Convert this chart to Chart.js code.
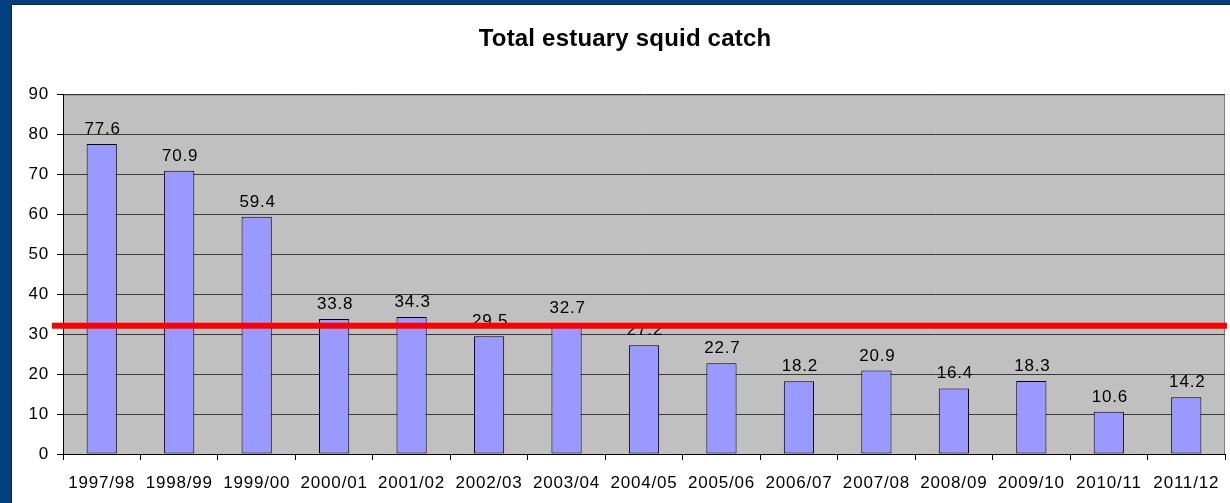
<!DOCTYPE html>
<html>
<head>
<meta charset="utf-8">
<script src="https://cdn.jsdelivr.net/npm/chart.js@4"></script>
<style>
    html, body { margin: 0; padding: 0; background: #004080; }
    #frame {
        position: absolute; left: 11px; top: 4px; width: 1219px; height: 499px;
        border-left: 1px solid #222; border-top: 1px solid #222; background: #fff;
    }
    #wrap { position: absolute; left: 0; top: 0; width: 1218px; height: 498px; }
</style>
</head>
<body>
<div id="frame"><div id="wrap"><canvas id="squidChart"></canvas></div></div>
<script>
// Season labels and catch totals
const seasons = ['1997/98', '1998/99', '1999/00', '2000/01', '2001/02', '2002/03', '2003/04', '2004/05',
    '2005/06', '2006/07', '2007/08', '2008/09', '2009/10', '2010/11', '2011/12'];
const catchTotals = [77.6, 70.9, 59.4, 33.8, 34.3, 29.5, 32.7, 27.2, 22.7, 18.2, 20.9, 16.4, 18.3, 10.6, 14.2];
const yTicks = [0, 10, 20, 30, 40, 50, 60, 70, 80, 90];
const referenceLevel = 32.1;
const chartTitle = 'Total estuary squid catch';

const fontFamily = "'Liberation Sans', Arial, sans-serif";

// Grey plot background (drawn before grid lines) with grey top/right border
const plotBackground = {
    id: 'plotBackground',
    beforeDraw(chart) {
        const { ctx, chartArea: a } = chart;
        ctx.letterSpacing = '0.8px'; // text in the original is a bit wider
        ctx.save();
        ctx.fillStyle = '#C0C0C0';
        ctx.fillRect(a.left, a.top, a.right - a.left, a.bottom - a.top);
        ctx.strokeStyle = '#808080';
        ctx.lineWidth = 1;
        ctx.beginPath();
        ctx.moveTo(a.left, a.top + 0.5);
        ctx.lineTo(a.right - 0.5, a.top + 0.5);
        ctx.lineTo(a.right - 0.5, a.bottom);
        ctx.stroke();
        ctx.restore();
    }
};

// Value labels above each bar, red reference line on top, and the title
const valueLabels = {
    id: 'valueLabels',
    afterDatasetsDraw(chart) {
        const { ctx, chartArea: a, scales } = chart;
        const meta = chart.getDatasetMeta(0);
        ctx.save();
        ctx.letterSpacing = '0.8px';
        ctx.font = `17px ${fontFamily}`;
        ctx.fillStyle = '#000';
        ctx.textAlign = 'center';
        ctx.textBaseline = 'alphabetic';
        meta.data.forEach((bar, i) => {
            ctx.fillText(catchTotals[i].toFixed(1), bar.x + 1, bar.y - 10);
        });

        const y = scales.y.getPixelForValue(referenceLevel);
        ctx.strokeStyle = '#FF0000';
        ctx.lineWidth = 6;
        ctx.beginPath();
        ctx.moveTo(a.left - 11, y);
        ctx.lineTo(a.right + 2, y);
        ctx.stroke();

        // title
        ctx.letterSpacing = '0.2px';
        ctx.font = `bold 24px ${fontFamily}`;
        ctx.fillText(chartTitle, 613, 41);
        ctx.restore();
    }
};

new Chart(document.getElementById('squidChart'), {
    type: 'bar',
    data: {
        labels: seasons,
        datasets: [{
            data: catchTotals,
            backgroundColor: '#9999FF',
            borderColor: '#000',
            borderWidth: 1,
            borderSkipped: false,
            categoryPercentage: 1,
            barPercentage: 0.39
        }]
    },
    options: {
        responsive: true,
        maintainAspectRatio: false,
        animation: false,
        layout: { padding: { left: 0, right: 5, top: 89.5, bottom: 0 } },
        plugins: {
            legend: { display: false },
            tooltip: { enabled: false },
            title: { display: false }
        },
        scales: {
            x: {
                grid: { display: true, drawOnChartArea: false, drawTicks: true, tickLength: 6, color: '#000', offset: true },
                border: { display: true, color: '#000', width: 1 },
                ticks: { color: '#000', font: { family: fontFamily, size: 17 }, padding: 13, maxRotation: 0, autoSkip: false },
                afterFit(scale) { scale.height = 49; }
            },
            y: {
                min: 0,
                max: 90,
                afterBuildTicks(scale) { scale.ticks = yTicks.map(v => ({ value: v })); },
                grid: { color: '#3a3a3a', tickLength: 6, tickColor: '#000' },
                border: { display: true, color: '#000', width: 1 },
                ticks: { color: '#000', font: { family: fontFamily, size: 17 }, padding: 8 },
                afterFit(scale) { scale.width = 51; }
            }
        }
    },
    plugins: [plotBackground, valueLabels]
});
</script>
</body>
</html>
